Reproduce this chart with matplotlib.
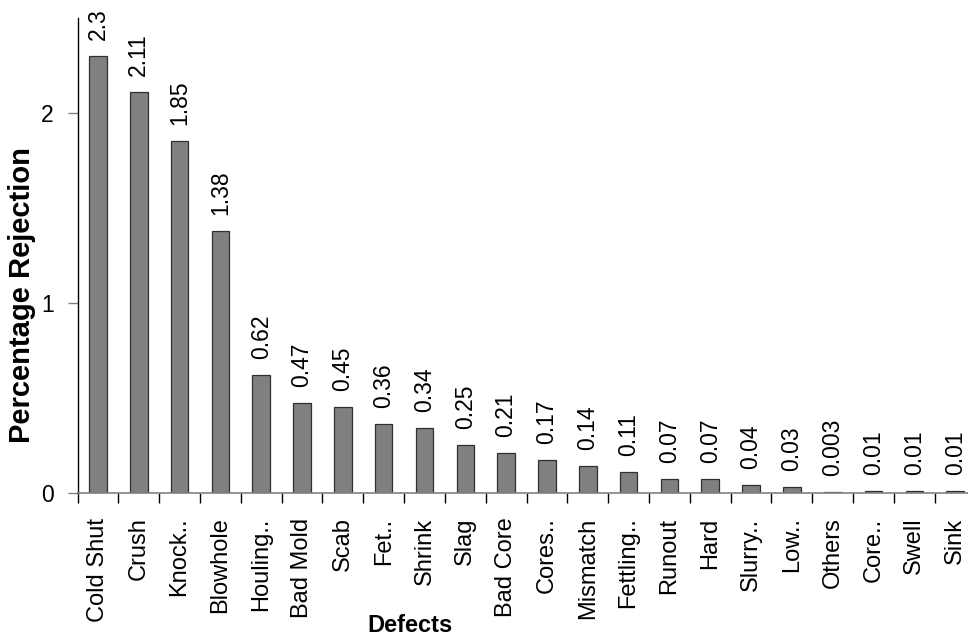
import matplotlib
matplotlib.use('Agg')
import matplotlib.pyplot as plt
from matplotlib.ticker import FixedLocator

plt.rcParams['font.family'] = ['Liberation Sans', 'DejaVu Sans']

defects = ['Cold Shut', 'Crush', 'Knock..', 'Blowhole', 'Houling..', 'Bad Mold',
           'Scab', 'Fet..', 'Shrink', 'Slag', 'Bad Core', 'Cores..', 'Mismatch',
           'Fettling..', 'Runout', 'Hard', 'Slurry..', 'Low..', 'Others', 'Core..',
           'Swell', 'Sink']
rejection = [2.3, 2.11, 1.85, 1.38, 0.62, 0.47, 0.45, 0.36, 0.34, 0.25, 0.21,
             0.17, 0.14, 0.11, 0.07, 0.07, 0.04, 0.03, 0.003, 0.01, 0.01, 0.01]
value_labels = ['2.3', '2.11', '1.85', '1.38', '0.62', '0.47', '0.45', '0.36',
                '0.34', '0.25', '0.21', '0.17', '0.14', '0.11', '0.07', '0.07',
                '0.04', '0.03', '0.003', '0.01', '0.01', '0.01']
y_ticks = [0, 1, 2]

W, H = 968, 639
fig = plt.figure(figsize=(W / 100, H / 100), dpi=100)
ax = fig.add_axes([77.5 / W, (H - 492.5) / H, 22 * 40.82 / W, 474.5 / H])

x = list(range(len(defects)))
ax.bar(x, rejection, width=0.43, color='#808080', edgecolor='#303030', linewidth=0.9)

# value labels sit a fixed gap above each bar, written upwards
for i, (v, lab) in enumerate(zip(rejection, value_labels)):
    ax.annotate(lab, (i, v), xytext=(0, 11.5), textcoords='offset points',
                rotation=90, ha='center', va='bottom', fontsize=16.5)

ax.set_xlim(-0.5, len(defects) - 0.5)
ax.set_ylim(0, 2.5)
ax.set_yticks(y_ticks)
ax.set_yticklabels([str(t) for t in y_ticks], fontsize=16.5)
ax.tick_params(axis='y', length=7, color='#808080', width=1, pad=10)

ax.set_xticks(x)
ax.set_xticklabels(defects, rotation=90, fontsize=17, va='top', ha='center')
ax.xaxis.set_minor_locator(FixedLocator([i - 0.5 for i in range(len(defects) + 1)]))
ax.tick_params(axis='x', which='major', length=0, pad=18)
ax.tick_params(axis='x', which='minor', length=7, color='black', width=1)

for s in ['top', 'right']:
    ax.spines[s].set_visible(False)
ax.spines['left'].set_color('black')
ax.spines['left'].set_linewidth(1)
ax.spines['bottom'].set_color('#808080')
ax.spines['bottom'].set_linewidth(1.2)

fig.text(22 / W, 1 - 295 / H, 'Percentage Rejection', rotation=90, fontsize=21,
         fontweight='bold', ha='center', va='center')
fig.text(410 / W, 1 - 626 / H, 'Defects', fontsize=17, fontweight='bold',
         ha='center', va='center')

fig.savefig('out.png', dpi=100)
